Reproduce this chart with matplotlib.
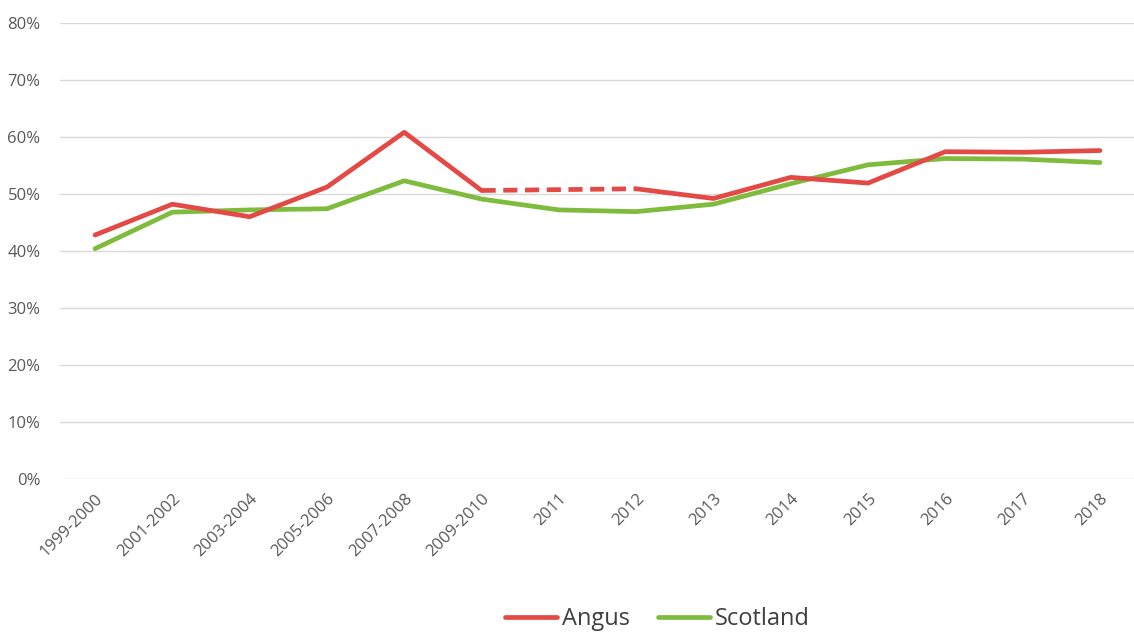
import numpy as np
import matplotlib.pyplot as plt
from matplotlib.ticker import PercentFormatter

# Share of population, Angus vs Scotland
periods = ["1999-2000", "2001-2002", "2003-2004", "2005-2006", "2007-2008",
           "2009-2010", "2011", "2012", "2013", "2014", "2015", "2016",
           "2017", "2018"]
angus = [42.8, 48.2, 46.0, 51.2, 60.8, 50.6, None, 50.9, 49.2, 52.9, 51.9,
         57.4, 57.3, 57.6]
scotland = [40.4, 46.8, 47.2, 47.4, 52.3, 49.1, 47.2, 46.9, 48.2, 51.8, 55.1,
            56.2, 56.1, 55.5]

RED = "#E34A45"
GREEN = "#7FBC3D"
TEXT = "#595959"

plt.rcParams["font.family"] = ["Open Sans", "DejaVu Sans"]

fig = plt.figure(figsize=(11.34, 6.33), dpi=100)
ax = fig.add_axes([60 / 1134, 1 - 479.3 / 633, 1074 / 1134, (479.3 - 22.7) / 633])

x = np.arange(len(periods))
a = np.array([np.nan if v is None else v for v in angus], dtype=float) / 100
s = np.array(scotland, dtype=float) / 100

# solid line for Angus, with a dashed bridge across missing years
ax.plot(x, a, color=RED, lw=3.4, solid_capstyle="round", label="Angus", zorder=3)
valid = np.where(~np.isnan(a))[0]
for i0, i1 in zip(valid[:-1], valid[1:]):
    if i1 - i0 > 1:
        ax.plot([x[i0], x[i1]], [a[i0], a[i1]], color=RED, lw=3.4,
                ls=(0, (3.0, 1.6)), zorder=3)
ax.plot(x, s, color=GREEN, lw=3.4, solid_capstyle="round", label="Scotland", zorder=2)

ax.set_ylim(0, 0.8)
ax.set_xlim(-0.453, 13.44)
ax.set_yticks(np.arange(0, 0.81, 0.1))
ax.yaxis.set_major_formatter(PercentFormatter(1.0, decimals=0))
ax.set_xticks(x)
ax.set_xticklabels(periods, rotation=45, ha="right", rotation_mode="anchor")
ax.grid(axis="y", color="#D9D9D9", lw=1)
ax.set_axisbelow(True)
for sp in ax.spines.values():
    sp.set_visible(False)
ax.tick_params(length=0, labelsize=12, colors=TEXT)
ax.tick_params(axis="y", pad=14)
ax.tick_params(axis="x", pad=8)

fig.legend(loc="center", bbox_to_anchor=(0.58, 0.022), ncol=2, frameon=False,
           fontsize=17, labelcolor="#404040", handlelength=2.2,
           handletextpad=0.2, columnspacing=1.2)

fig.savefig("out.png", dpi=100)
